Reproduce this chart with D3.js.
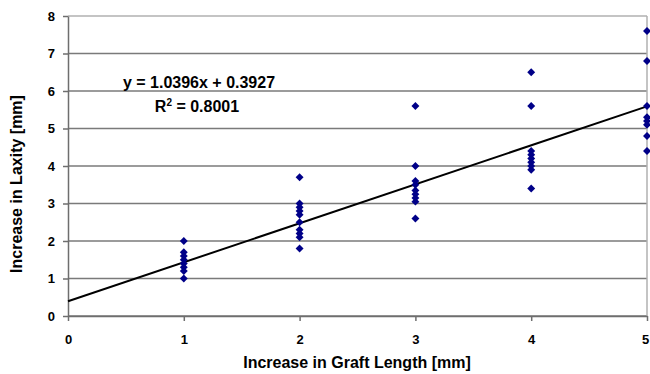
<!DOCTYPE html>
<html>
<head>
<meta charset="utf-8">
<script src="https://cdn.jsdelivr.net/npm/d3@7"></script>
<style>
  body { margin: 0; background: #fff; }
  text { font-family: "Liberation Sans", Arial, sans-serif; font-weight: bold; fill: #000; }
</style>
</head>
<body>
<div id="chart"></div>
<script>
// data
var graftLength = [1, 2, 3, 4, 5];
var laxity1 = [2.0, 1.7, 1.6, 1.5, 1.4, 1.3, 1.2, 1.0];
var laxity2 = [3.7, 3.0, 2.9, 2.8, 2.7, 2.5, 2.3, 2.2, 2.1, 1.8];
var laxity3 = [5.6, 4.0, 3.6, 3.5, 3.35, 3.25, 3.15, 3.05, 2.6];
var laxity4 = [6.5, 5.6, 4.4, 4.3, 4.2, 4.1, 4.0, 3.9, 3.4];
var laxity5 = [7.6, 6.8, 5.6, 5.3, 5.2, 5.1, 4.8, 4.4];
var xTicks = [0, 1, 2, 3, 4, 5];
var yTicks = [0, 1, 2, 3, 4, 5, 6, 7, 8];
var slope = 1.0396;
var intercept = 0.3927;
var rSquared = 0.8001;

var svgWidth = 650;
var svgHeight = 374;
var margin = { top: 16, right: 3, bottom: 58, left: 68 };

var width = svgWidth - margin.left - margin.right;
var height = svgHeight - margin.top - margin.bottom;

var svg = d3.select("#chart")
    .append("svg")
    .attr("width", svgWidth)
    .attr("height", svgHeight);

var g = svg.append("g")
    .attr("transform", `translate(${margin.left}, ${margin.top})`);

var xScale = d3.scaleLinear().domain([0, 5]).range([0, width]);
var yScale = d3.scaleLinear().domain([0, 8]).range([height, 0]);

// horizontal gridlines
g.selectAll(".grid")
    .data(yTicks)
    .enter()
    .append("line")
    .attr("x1", 0)
    .attr("x2", width)
    .attr("y1", function(d) { return yScale(d); })
    .attr("y2", function(d) { return yScale(d); })
    .attr("stroke", function(d) { return d === 8 ? "#b0b0b0" : "#7a7a7a"; })
    .attr("stroke-width", 1.5);

// right border
g.append("line")
    .attr("x1", width).attr("x2", width)
    .attr("y1", 0).attr("y2", height)
    .attr("stroke", "#b0b0b0")
    .attr("stroke-width", 1.5);

// axes
var xAxis = d3.axisBottom(xScale).tickValues(xTicks).tickFormat(d3.format("d"))
    .tickSize(5).tickSizeOuter(0).tickPadding(14);
var yAxis = d3.axisLeft(yScale).tickValues(yTicks).tickFormat(d3.format("d"))
    .tickSize(5).tickSizeOuter(0).tickPadding(8);

var gx = g.append("g")
    .attr("transform", `translate(0, ${height})`)
    .call(xAxis);
var gy = g.append("g").call(yAxis);

[gx, gy].forEach(function(ax) {
  ax.selectAll("path, line").attr("stroke", "#6e6e6e").attr("stroke-width", 1.5);
  ax.selectAll("text").attr("font-size", 13).attr("font-family", "Liberation Sans, Arial, sans-serif").attr("font-weight", "bold");
});
// last x label sits at the right edge
gx.selectAll("text").filter(function(d) { return d === 5; }).attr("dx", -2);

// trendline
var line = d3.line()
    .x(function(d) { return xScale(d); })
    .y(function(d) { return yScale(slope * d + intercept); });

g.append("path")
    .datum([0, 5])
    .attr("d", line)
    .attr("fill", "none")
    .attr("stroke", "#000")
    .attr("stroke-width", 2);

// points
var groups = [laxity1, laxity2, laxity3, laxity4, laxity5];
var points = [];
groups.forEach(function(vals, i) {
  vals.forEach(function(v) { points.push({ x: graftLength[i], y: v }); });
});

var diamond = d3.symbol().type(d3.symbolDiamond2).size(40);
g.selectAll(".pt")
    .data(points)
    .enter()
    .append("path")
    .attr("d", diamond)
    .attr("transform", function(d) {
      return `translate(${xScale(d.x)}, ${yScale(d.y)})`;
    })
    .attr("fill", "#000088");

// equation labels
g.append("text")
    .attr("x", 199 - margin.left)
    .attr("y", 88 - margin.top)
    .attr("text-anchor", "middle")
    .attr("font-size", 16)
    .text(`y = ${slope}x + ${intercept}`);

var r2 = g.append("text")
    .attr("x", 197 - margin.left)
    .attr("y", 112 - margin.top)
    .attr("text-anchor", "middle")
    .attr("font-size", 16);
r2.append("tspan").text("R");
r2.append("tspan").attr("dy", -6).attr("font-size", 10).text("2");
r2.append("tspan").attr("dy", 6).text(` = ${rSquared}`);

// axis titles
svg.append("text")
    .attr("x", 357)
    .attr("y", 368)
    .attr("text-anchor", "middle")
    .attr("font-size", 16)
    .text("Increase in Graft Length [mm]");

svg.append("text")
    .attr("transform", "translate(22, 184) rotate(-90)")
    .attr("text-anchor", "middle")
    .attr("font-size", 16)
    .text("Increase in Laxity [mm]");
</script>
</body>
</html>
